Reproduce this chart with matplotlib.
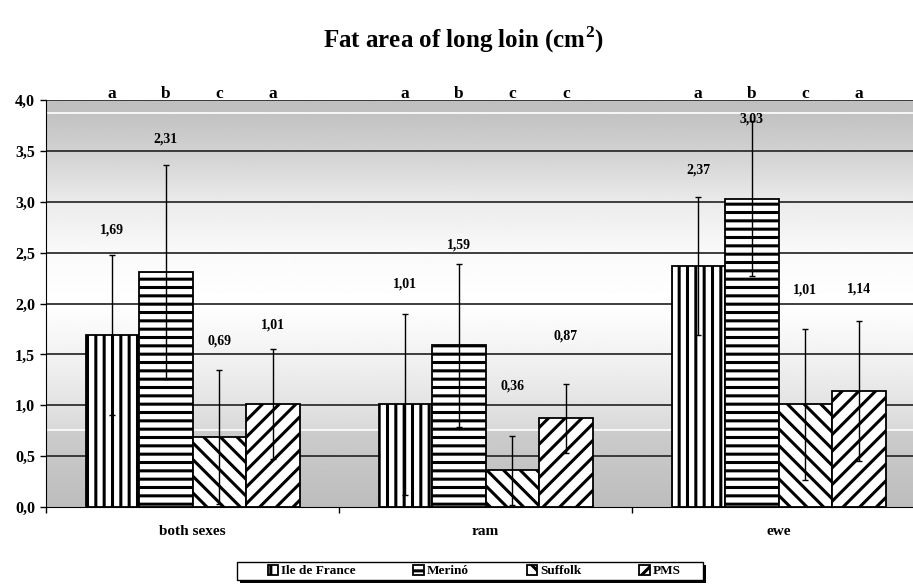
import numpy as np
import matplotlib
matplotlib.use("Agg")
import matplotlib.pyplot as plt
from matplotlib.patches import Rectangle

plt.rcParams['font.family'] = ['Liberation Serif', 'DejaVu Serif']
plt.rcParams['font.weight'] = 'bold'
plt.rcParams['mathtext.fontset'] = 'custom'
plt.rcParams['mathtext.rm'] = 'Liberation Serif'
plt.rcParams['mathtext.bf'] = 'Liberation Serif:bold'
plt.rcParams['hatch.linewidth'] = 2.2

# --- data ---
groups = ['both sexes', 'ram', 'ewe']
breeds = ['Ile de France', 'Merinó', 'Suffolk', 'PMS']

ile_de_france = [1.69, 1.01, 2.37]
merino = [2.31, 1.59, 3.03]
suffolk = [0.69, 0.36, 1.01]
pms = [1.01, 0.87, 1.14]

sd_ile = [0.79, 0.89, 0.68]
sd_merino = [1.05, 0.80, 0.76]
sd_suffolk = [0.66, 0.34, 0.74]
sd_pms = [0.54, 0.34, 0.69]

letters = [['a', 'b', 'c', 'a'],
           ['a', 'b', 'c', 'c'],
           ['a', 'b', 'c', 'a']]

# where the value labels sit (y, in axis units), as in the original
label_y = [[2.72, 3.62, 1.63, 1.79],
           [2.19, 2.57, 1.19, 1.68],
           [3.31, 3.81, 2.13, 2.14]]

values = [ile_de_france, merino, suffolk, pms]
sds = [sd_ile, sd_merino, sd_suffolk, sd_pms]
hatches = ['||', '--', '\\\\', '//']

W, H = 913, 585
fig = plt.figure(figsize=(W / 100, H / 100), dpi=100)
ax = fig.add_axes([46 / W, 1 - 507 / H, 1 - 46 / W, (507 - 100) / H])

x_left, x_right = -0.5, 2.5 - 12 / 293
ax.set_xlim(x_left, x_right)
ax.set_ylim(0, 4.0)

# background gradient (grey - white - grey), like the Excel plot area
yy = np.linspace(0, 4, 400)
stops_y = [0.0, 0.75, 0.76, 1.0, 1.5, 2.0, 2.5, 3.0, 3.5, 3.87, 3.88, 4.0]
stops_c = [0.74, 0.80, 0.85, 0.89, 0.95, 1.0, 0.98, 0.92, 0.82, 0.76, 0.75, 0.75]
shade = np.interp(yy, stops_y, stops_c)
img = np.repeat(shade[:, None], 2, axis=1)
ax.imshow(img, cmap='gray', vmin=0, vmax=1, origin='lower', aspect='auto',
          extent=[x_left, x_right, 0, 4], zorder=0)
ax.axhline(0.755, color='white', lw=1.2, zorder=1)
ax.axhline(3.875, color='white', lw=1.2, zorder=1)

for yg in np.arange(0.5, 4.01, 0.5):
    ax.axhline(yg, color='#303030', lw=1.3, zorder=1)

w = 53.5 / 293
x = np.arange(len(groups))
for k in range(4):
    pos = x + (k - 1.5) * w
    ax.bar(pos, values[k], width=w, facecolor='white', edgecolor='black',
           hatch=hatches[k], linewidth=1.3, label=breeds[k], zorder=2)
    ax.errorbar(pos, values[k], yerr=sds[k], fmt='none', ecolor='black',
                elinewidth=1.0, capsize=2.5, capthick=1.0, zorder=3)
    for g in range(len(groups)):
        ax.text(pos[g], label_y[g][k], f"{values[k][g]:.2f}".replace('.', ','),
                ha='center', va='center', fontsize=10, fontweight='bold', zorder=4)
        ax.text(pos[g], 4.02, letters[g][k], ha='center', va='baseline',
                fontsize=12.5, fontweight='bold', clip_on=False)

# axes styling
for s in ['top', 'right']:
    ax.spines[s].set_visible(False)
ax.spines['left'].set_color('black')
ax.spines['bottom'].set_color('black')
ax.set_yticks(np.arange(0, 4.01, 0.5))
ax.set_yticklabels([f"{v:.1f}".replace('.', ',') for v in np.arange(0, 4.01, 0.5)],
                   fontsize=11.5, fontweight='bold')
ax.tick_params(axis='y', direction='out', length=4, width=1, pad=4)

ax.set_xticks([-0.5, 0.5, 1.5])
ax.set_xticklabels([])
ax.set_xticks(x, minor=True)
ax.set_xticklabels(groups, minor=True, fontsize=11, fontweight='bold')
ax.tick_params(axis='x', which='major', direction='out', length=4, width=1)
ax.tick_params(axis='x', which='minor', length=0, pad=13)

fig.text(0.507, 0.932, r'Fat area of long loin (cm$^{\mathbf{2}}$)', ha='center', va='center',
         fontsize=18, fontweight='bold')

# legend box drawn by hand (wider than its content, with a black shadow)
bx0, bx1, by0, by1 = 237, 703, 562, 580
fig.patches.append(Rectangle(((bx0 + 3) / W, 1 - (by1 + 3) / H), (bx1 - bx0) / W,
                             (by1 - by0) / H, transform=fig.transFigure,
                             facecolor='black', edgecolor='none', zorder=1))
fig.patches.append(Rectangle((bx0 / W, 1 - by1 / H), (bx1 - bx0) / W, (by1 - by0) / H,
                             transform=fig.transFigure, facecolor='white',
                             edgecolor='black', linewidth=1.0, zorder=2))
leg = fig.legend(loc='center', bbox_to_anchor=(474 / W, 1 - 571 / H), ncol=4,
                 prop={'size': 9.5, 'weight': 'bold'}, frameon=False,
                 handlelength=0.8, handleheight=0.8, handletextpad=0.2,
                 columnspacing=4.4, borderpad=0.1)
leg.set_zorder(3)

fig.savefig('out.png', dpi=100)
